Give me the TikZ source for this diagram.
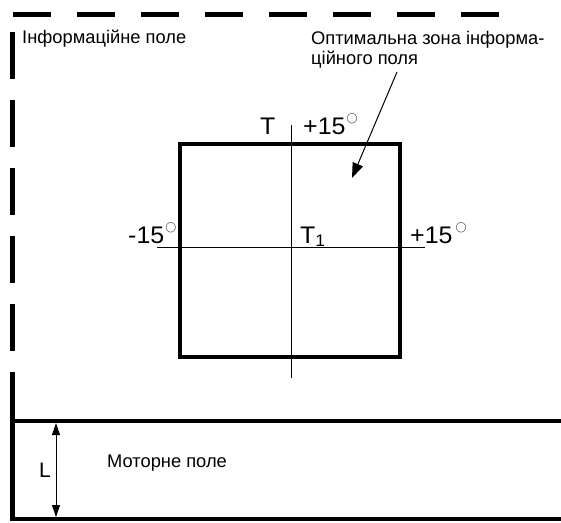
\documentclass[tikz,border=0pt]{standalone}
\usepackage{fontspec}
\setmainfont{Liberation Sans}
\newfontfamily\widesans[FakeStretch=1.04]{Liberation Sans}
\usetikzlibrary{arrows.meta}
\newcommand{\dg}{\kern1pt\raisebox{13pt}{\fontsize{11}{11}\selectfont$\bigcirc$}}
\begin{document}
\begin{tikzpicture}[x=1pt, y=-1pt,
    frame/.style={line width=4.5pt},
    zone/.style={line width=4pt},
    axis/.style={line width=1pt},
    lbl/.style={font=\fontsize{18.3}{20}\selectfont, inner sep=0pt, anchor=base west},
    angle/.style={font=\widesans\fontsize{24}{26}\selectfont, inner sep=0pt, anchor=base west}]
  \useasboundingbox (0,0) rectangle (561,522);
  % Information field frame (dashed)
  \draw[frame, dash pattern=on 38pt off 26pt] (13,14.5) -- (500,14.5);
  \draw[frame, dash pattern=on 47pt off 21pt] (12.5,32) -- (12.5,352);
  % Motor field
  \draw[frame] (12.5,372) -- (12.5,519) -- (561,519);
  \draw[frame] (12.5,421) -- (561,421);
  % Optimal zone
  \draw[zone] (180,144) rectangle (400,357);
  \coordinate (vtop) at (291.5,125);
  \coordinate (vbot) at (291.5,378);
  \coordinate (hleft) at (157,247.5);
  \coordinate (hright) at (425,247.5);
  \draw[axis] (vtop) -- (vbot);
  \draw[axis] (hleft) -- (hright);
  % Labels
  \node[lbl] (info) at (22,43) {Інформаційне поле};
  \node[lbl, anchor=north west, align=left] (optim) at (311,31)
    {Оптимальна зона інформа-\\ційного поля};
  \node[angle] (tlab) at (260,134) {T};
  \node[angle] (ptop) at (303,134) {+15\dg};
  \node[angle] (mleft) at (128,243) {-15\dg};
  \node[angle] (tone) at (300,243) {T\textsubscript{1}};
  \node[angle] (pright) at (410,243) {+15\kern2pt\dg};
  % Arrow to the zone
  \coordinate (arrstart) at (397,72);
  \coordinate (arrend) at (352,178);
  \draw[axis, -{Triangle[length=15pt, width=11pt]}] (arrstart) -- (arrend);
  % Motor field height
  \coordinate (ltop) at (56,423);
  \coordinate (lbot) at (56,517);
  \draw[axis, {Triangle[length=12pt, width=8pt]}-{Triangle[length=12pt, width=8pt]}] (ltop) -- (lbot);
  \node[lbl, font=\fontsize{21}{23}\selectfont] (llab) at (39,477) {L};
  \node[lbl] (motor) at (107,467) {Моторне поле};
\end{tikzpicture}
\end{document}
